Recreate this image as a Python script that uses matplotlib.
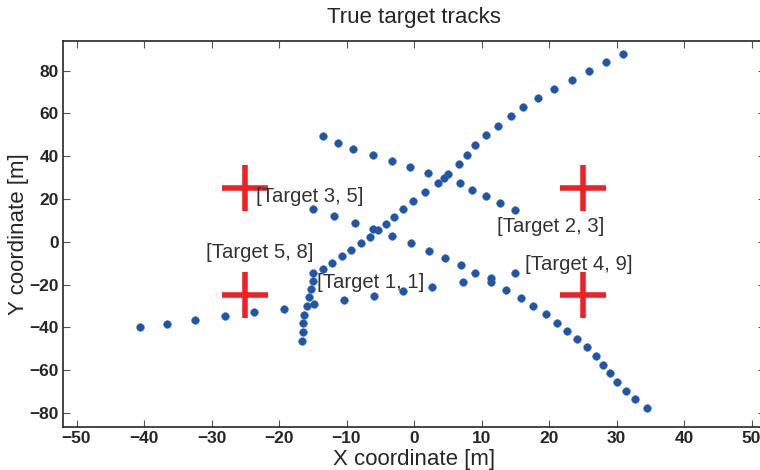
import matplotlib
matplotlib.use("Agg")
import matplotlib.pyplot as plt

plt.rcParams['font.family'] = ['Liberation Sans', 'DejaVu Sans']

# Sensor / landmark positions
cross_x = [-25, 25, -25, 25]
cross_y = [25, 25, -25, -25]

# Track rising from the bottom and bending towards the upper right
up_x = [-16.65, -16.5, -16.4, -16.3, -15.9, -15.5, -15.2, -15.0, -15.0,
        -13.5, -12.1, -10.7, -9.4, -7.9, -6.5, -5.3, -4.2, -3.0, -1.7, -0.2,
        1.6, 3.5, 5.1, 6.6, 7.8, 9.1, 10.6, 12.4, 14.3, 16.2, 18.4, 20.8,
        23.4, 25.9, 28.4, 30.9]
up_y = [-46.1, -42.1, -38.0, -34.0, -29.9, -25.7, -21.8, -18.3, -14.7,
        -12.5, -9.7, -6.6, -3.7, -0.7, 2.4, 5.4, 8.5, 11.8, 15.2, 19.0,
        23.2, 27.4, 31.9, 36.3, 40.6, 45.1, 49.8, 54.3, 58.9, 63.0, 67.2, 71.4,
        75.5, 79.8, 83.9, 87.9]

# Short track descending from upper left
t2_x = [-13.5, -11.3, -9.0, -6.1, -3.3, -0.6, 2.0, 4.5, 6.8, 8.6, 10.6, 12.7, 15.0]
t2_y = [49.3, 46.3, 43.5, 40.7, 38.0, 35.2, 32.4, 29.8, 27.3, 24.3, 21.4, 18.3, 15.0]

# Long descending track
t3_x = [-15.0, -11.8, -8.8, -6.1, -3.3, -0.5, 2.2, 4.6, 6.9, 9.1, 11.4, 13.7,
        15.8, 17.7, 19.6, 21.2, 22.7, 24.1, 25.6, 27.0, 28.0, 29.0, 30.1,
        31.4, 32.8, 34.5]
t3_y = [15.2, 12.0, 8.8, 6.2, 2.7, -0.7, -4.1, -7.5, -10.8, -14.6, -18.6, -22.5,
        -26.4, -29.9, -33.8, -37.9, -41.8, -45.5, -49.3, -53.5, -57.6, -61.3,
        -65.3, -69.5, -73.6, -77.8]

# Slowly rising track from the lower left
low_x = [-40.6, -36.6, -32.5, -28.0, -23.7, -19.3, -14.8, -10.3, -6.0, -1.6,
         2.7, 7.2, 11.4, 14.9]
low_y = [-39.9, -38.2, -36.5, -34.7, -32.9, -31.2, -29.2, -27.3, -25.3, -22.9,
         -20.9, -18.8, -16.7, -14.7]

labels = ['[Target 3, 5]', '[Target 5, 8]', '[Target 1, 1]',
          '[Target 2, 3]', '[Target 4, 9]']
label_x = [-23.4, -30.8, -14.3, 12.3, 16.5]
label_y = [21.2, -4.9, -19.0, 7.1, -10.7]

x_ticks = list(range(-50, 51, 10))
y_ticks = list(range(-80, 81, 20))

dot = '#2155A5'
red = '#EE2128'
ink = '#262626'

fig = plt.figure(figsize=(7.6, 4.7), dpi=100)
ax = fig.add_axes([63 / 760, 43 / 470, 702 / 760, 386.3 / 470])

ax.plot(cross_x, cross_y, '+', color=red, markersize=33, markeredgewidth=4, zorder=2)
for xs, ys in [(up_x, up_y), (t2_x, t2_y), (t3_x, t3_y), (low_x, low_y)]:
    ax.plot(xs, ys, 'o', color=dot, markersize=5.5, markeredgewidth=0.4,
            markeredgecolor='#3A68B5', zorder=3)

for txt, tx, ty in zip(labels, label_x, label_y):
    ax.text(tx, ty, txt, ha='left', va='center', fontsize=14.6, color='#333333', zorder=4)

ax.set_xlim(-52, 52)
ax.set_ylim(-86.5, 94)
ax.set_xticks(x_ticks)
ax.set_yticks(y_ticks)
ax.set_xticklabels([str(v).replace('-', '\u2212') for v in x_ticks])
ax.set_yticklabels([str(v).replace('-', '\u2212') for v in y_ticks])

ax.tick_params(direction='in', length=5, width=0.8, color='#555555',
               top=True, right=True, labelsize=12.5, labelcolor=ink, pad=3)
for lab in ax.get_xticklabels() + ax.get_yticklabels():
    lab.set_fontweight('bold')
for sp in ax.spines.values():
    sp.set_color(ink)
    sp.set_linewidth(1.2)

ax.set_title('True target tracks', fontsize=16, color=ink, pad=13)
ax.set_xlabel('X coordinate [m]', fontsize=16, color=ink)
ax.set_ylabel('Y coordinate [m]', fontsize=16, color=ink)
ax.xaxis.set_label_coords(0.5, -0.056)
ax.yaxis.set_label_coords(-0.049, 0.5)

fig.savefig('out.png', dpi=100)
